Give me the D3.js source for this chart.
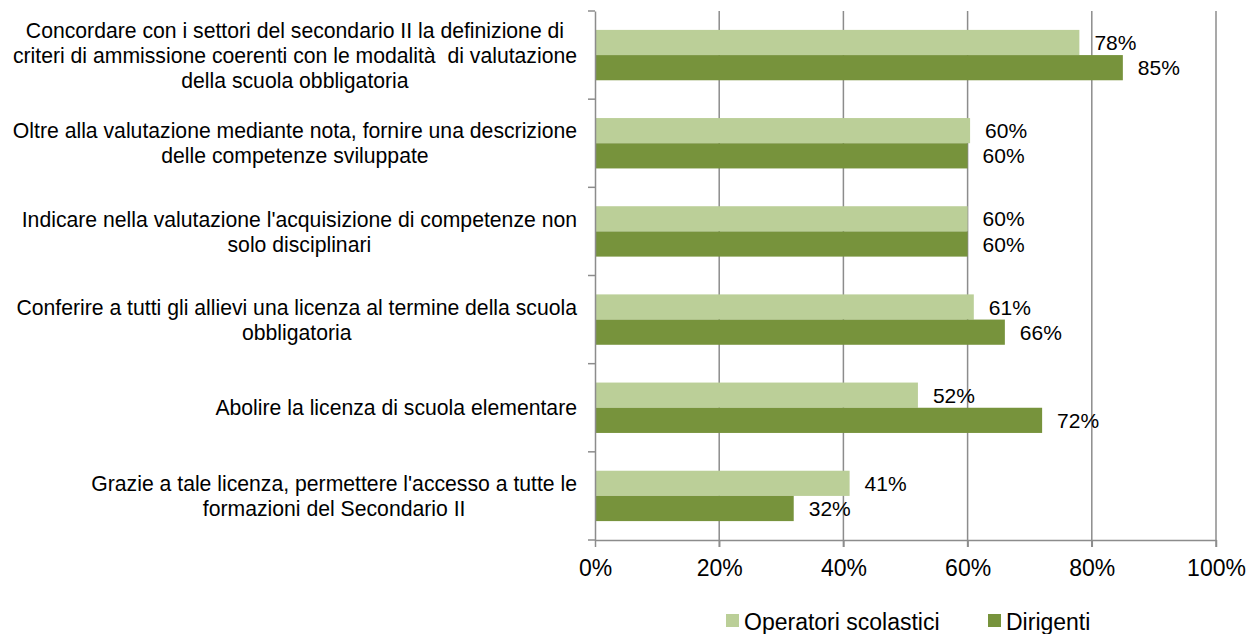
<!DOCTYPE html>
<html>
<head>
<meta charset="utf-8">
<script src="https://cdn.jsdelivr.net/npm/d3@7"></script>
<style>
  body { margin: 0; background: #fff; }
  text { font-family: "Liberation Sans", Arial, sans-serif; fill: #000; white-space: pre; }
</style>
</head>
<body>
<script>
// categories, top to bottom (each one split into its lines)
var categories = [
    ["Concordare con i settori del secondario II la definizione di", "criteri di ammissione coerenti con le modalità  di valutazione", "della scuola obbligatoria"],
    ["Oltre alla valutazione mediante nota, fornire una descrizione", "delle competenze sviluppate"],
    ["Indicare nella valutazione l'acquisizione di competenze non", "solo disciplinari"],
    ["Conferire a tutti gli allievi una licenza al termine della scuola", "obbligatoria"],
    ["Abolire la licenza di scuola elementare"],
    ["Grazie a tale licenza, permettere l'accesso a tutte le", "formazioni del Secondario II"]
];
var seriesNames = ["Operatori scolastici", "Dirigenti"];
var operatori = [0.78, 0.604, 0.60, 0.61, 0.52, 0.41];
var dirigenti = [0.85, 0.60, 0.60, 0.66, 0.72, 0.32];
var tickValues = [0, 0.2, 0.4, 0.6, 0.8, 1.0];
var colors = ["#BBCF98", "#77933C"];

var w = 1257, h = 634;
var svg = d3.select("body").append("svg")
    .attr("width", w)
    .attr("height", h);

var x = d3.scaleLinear().domain([0, 1]).range([595, 1216]);
var y = d3.scaleBand().domain(d3.range(categories.length)).range([11, 540]);
var sub = d3.scaleBand().domain([0, 1]).range([0, y.bandwidth()]).paddingOuter(0.75).paddingInner(0);

// gridlines
svg.selectAll(".grid")
    .data(tickValues.slice(1))
    .enter().append("line")
    .attr("class", "grid")
    .attr("x1", function(d){ return x(d); })
    .attr("x2", function(d){ return x(d); })
    .attr("y1", 11)
    .attr("y2", 547)
    .style("stroke", "#8C8C8C")
    .style("stroke-width", 1.5);

// bars
var rows = categories.map(function(c, i){
    return [operatori[i], dirigenti[i]];
});
var groups = svg.selectAll(".row")
    .data(rows)
    .enter().append("g")
    .attr("class", "row")
    .attr("transform", function(d, i){ return "translate(0," + y(i) + ")"; });

groups.selectAll("rect")
    .data(function(d){ return d; })
    .enter().append("rect")
    .attr("x", x(0))
    .attr("y", function(d, j){ return sub(j); })
    .attr("width", function(d){ return x(d) - x(0); })
    .attr("height", sub.bandwidth())
    .style("fill", function(d, j){ return colors[j]; });

// data labels
groups.selectAll(".lbl")
    .data(function(d){ return d; })
    .enter().append("text")
    .attr("class", "lbl")
    .attr("x", function(d){ return x(d) + 15; })
    .attr("y", function(d, j){ return sub(j) + sub.bandwidth() / 2; })
    .attr("dy", "0.36em")
    .style("font-size", "21px")
    .text(function(d){ return d3.format(".0%")(d); });

// axes
var yAxis = svg.append("g")
    .attr("transform", "translate(" + x(0) + ",0)")
    .call(d3.axisLeft(y).tickValues([]).tickSizeOuter(0));
yAxis.selectAll(".ytick")
    .data(d3.range(categories.length + 1))
    .enter().append("line")
    .attr("x1", -7).attr("x2", 0)
    .attr("y1", function(d){ return d < categories.length ? y(d) : 540; })
    .attr("y2", function(d){ return d < categories.length ? y(d) : 540; })
    .style("stroke", "#8C8C8C")
    .style("stroke-width", 1.5);
yAxis.select(".domain").style("stroke", "#8C8C8C").style("stroke-width", 1.5);

var xAxis = svg.append("g")
    .attr("transform", "translate(0,540)")
    .call(d3.axisBottom(x).tickValues(tickValues).tickSize(7).tickSizeOuter(0).tickPadding(13).tickFormat(d3.format(".0%")));
xAxis.select(".domain").style("stroke", "#8C8C8C").style("stroke-width", 1.5);
xAxis.selectAll(".tick line").style("stroke", "#8C8C8C").style("stroke-width", 1.5);
xAxis.selectAll(".tick text")
    .style("font-size", "23px")
    .style("font-family", "'Liberation Sans', Arial, sans-serif")
    .attr("fill", "#000");

// category labels: block right aligned, lines centered inside it
var labelRight = 577, lineH = 25;
categories.forEach(function(lines, i){
    var g = svg.append("g");
    var cy = y(i) + y.bandwidth() / 2;
    var texts = g.selectAll("text")
        .data(lines)
        .enter().append("text")
        .attr("y", function(d, k){ return cy + (k - (lines.length - 1) / 2) * lineH; })
        .attr("dy", "0.36em")
        .attr("text-anchor", "middle")
        .style("font-size", "21.2px")
        .text(function(d){ return d; });
    var maxW = d3.max(texts.nodes(), function(n){ return n.getComputedTextLength(); });
    texts.attr("x", labelRight - maxW / 2);
});

// legend
var legend = svg.append("g").attr("transform", "translate(726,0)");
var legX = [0, 262];
seriesNames.forEach(function(name, j){
    legend.append("rect")
        .attr("x", legX[j])
        .attr("y", 614)
        .attr("width", 13)
        .attr("height", 13)
        .style("fill", colors[j]);
    legend.append("text")
        .attr("x", legX[j] + 18)
        .attr("y", 630)
        .style("font-size", "23px")
        .text(name);
});
</script>
</body>
</html>
